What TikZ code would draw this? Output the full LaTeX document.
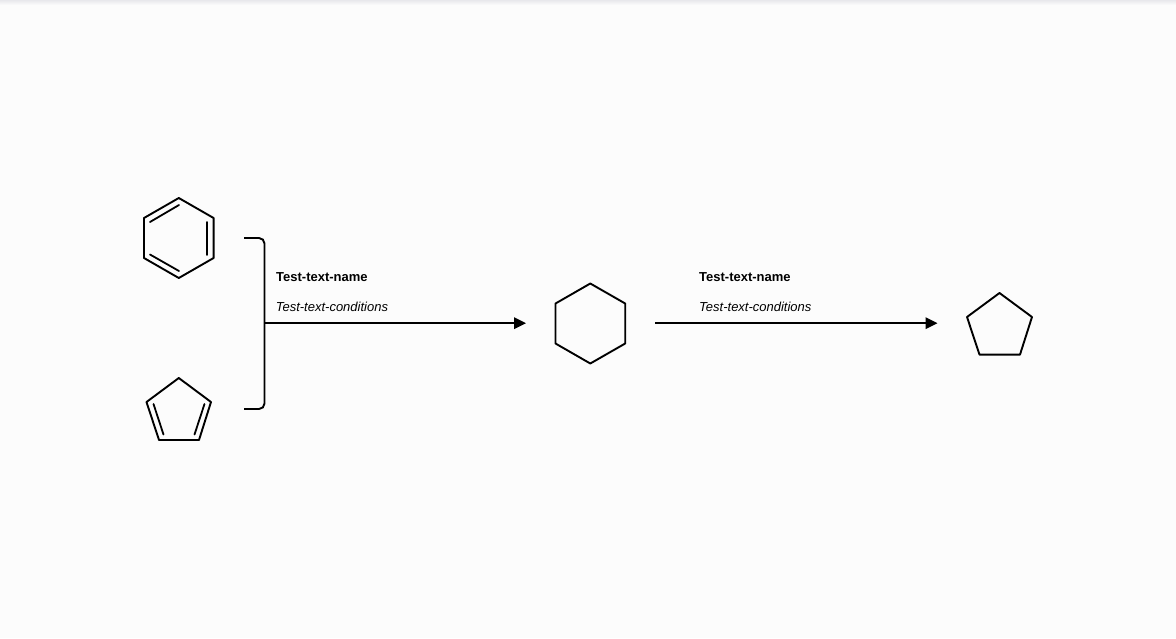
\documentclass[tikz,border=0pt]{standalone}
\usepackage{fontspec}
\setmainfont{Liberation Sans}
\usetikzlibrary{arrows.meta}
\definecolor{pagebg}{HTML}{FCFCFC}
\definecolor{topedge}{HTML}{E8E8EC}
\tikzset{
  bond/.style={draw=black,line width=1.9pt,line join=round,line cap=round},
  inner bond/.style={draw=black,line width=1.8pt,line cap=round},
  bracket/.style={draw=black,line width=1.9pt,rounded corners=5.5pt},
  reaction/.style={draw=black,line width=2pt,-{Triangle[length=12pt,width=11.5pt]}},
  name label/.style={font=\fontsize{13}{15}\selectfont\bfseries,anchor=base west,inner sep=0pt},
  cond label/.style={font=\fontsize{13}{15}\selectfont\itshape,anchor=base west,inner sep=0pt}
}
\begin{document}
\begin{tikzpicture}[x=1pt,y=-1pt]
\useasboundingbox (0,0) rectangle (1176,638);
\fill[pagebg] (0,0) rectangle (1176,638);
\shade[top color=topedge,bottom color=pagebg,shading angle=0] (0,0) rectangle (1176,5);
% benzene
\draw[bond] (178.8,198) -- (213.6,218) -- (213.6,258) -- (178.8,278) -- (144,258) -- (144,218) -- cycle;
\draw[inner bond] (150,222) -- (179,205);
\draw[inner bond] (207.1,222) -- (207.1,255);
\draw[inner bond] (150,254.5) -- (179,271);
% cyclopentadiene
\draw[bond] (178.8,378) -- (211,402) -- (199,440) -- (159,440) -- (146.5,402) -- cycle;
\draw[inner bond] (153.5,404) -- (163.5,434.5);
\draw[inner bond] (204.5,404) -- (194.5,434.5);
% hexagon product
\draw[bond] (590.3,283.5) -- (625.2,303.5) -- (625.2,343.5) -- (590.3,363.5) -- (555.5,343.5) -- (555.5,303.5) -- cycle;
% pentagon product
\draw[bond] (999.5,293) -- (1032,317) -- (1020,354.6) -- (979.5,354.6) -- (967,317) -- cycle;
% connectors
\coordinate (brTop) at (244,238);
\coordinate (brTopC) at (264.5,238);
\coordinate (brBotC) at (264.5,409);
\coordinate (brBot) at (244,409);
\coordinate (arrowA) at (264.5,323.2);
\coordinate (arrowAEnd) at (526,323.2);
\coordinate (arrowB) at (655,323.2);
\coordinate (arrowBEnd) at (937.5,323.2);
\draw[bracket] (brTop) -- (brTopC) -- (brBotC) -- (brBot);
\draw[reaction] (arrowA) -- (arrowAEnd);
\draw[reaction] (arrowB) -- (arrowBEnd);
% labels
\node[name label] (nameA) at (276,281) {Test-text-name};
\node[cond label] (condA) at (275.6,311) {Test-text-conditions};
\node[name label] (nameB) at (699,281) {Test-text-name};
\node[cond label] (condB) at (699,311) {Test-text-conditions};
\end{tikzpicture}
\end{document}
